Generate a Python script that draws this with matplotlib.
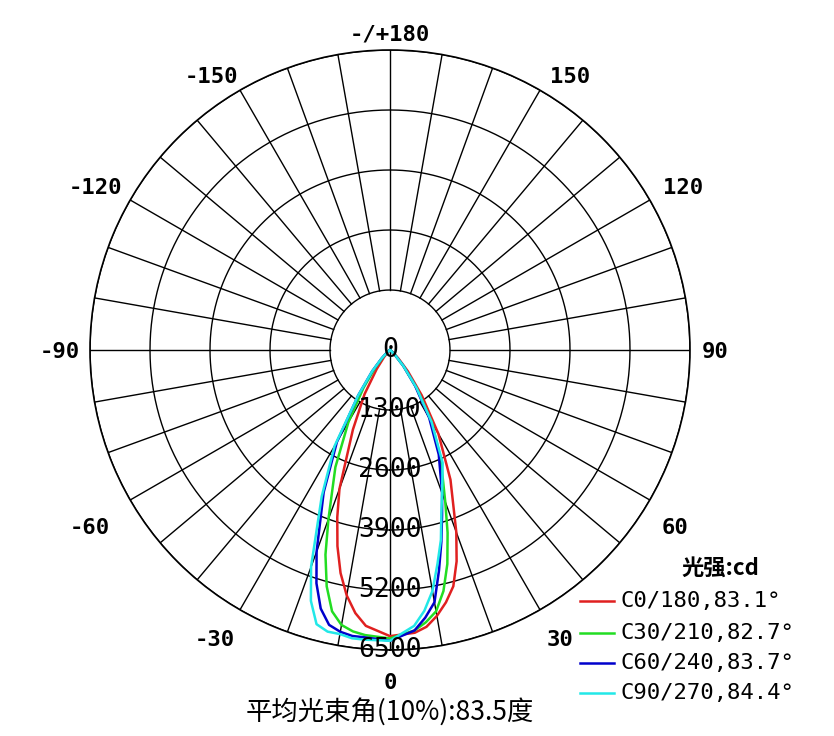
import numpy as np
import matplotlib.pyplot as plt
from matplotlib.lines import Line2D

# angles in degrees (negative = left side), intensity in cd
angles = [-90, -60, -50, -45, -40, -35, -30, -25, -20, -17.5, -15, -12.5, -10, -7.5, -5, 0,
          5, 7.5, 10, 12.5, 15, 17.5, 20, 25, 30, 35, 40, 45, 50, 60, 90]
c0 = [0, 0, 20, 60, 200, 500, 1100, 1900, 3200, 3800, 4400, 4950, 5400, 5750, 6000, 6200,
      6150, 6050, 5850, 5600, 5300, 4800, 4200, 3100, 2100, 1200, 600, 250, 80, 0, 0]
c30 = [0, 0, 60, 200, 500, 1000, 1800, 2800, 3900, 4650, 5300, 5800, 6050, 6150, 6200, 6250,
       6100, 5950, 5750, 5350, 4800, 4150, 3500, 2600, 1800, 1000, 450, 150, 40, 0, 0]
c60 = [0, 0, 80, 250, 600, 1200, 2300, 3400, 4650, 5300, 5800, 6100, 6200, 6250, 6250, 6300,
       6100, 5850, 5550, 4900, 4300, 3750, 3300, 2500, 1700, 950, 450, 150, 40, 0, 0]
c90 = [0, 0, 80, 250, 600, 1200, 2400, 3500, 5000, 5700, 6150, 6250, 6250, 6300, 6300, 6300,
       6000, 5700, 5300, 4750, 4260, 3700, 3300, 2700, 1800, 1000, 450, 150, 40, 0, 0]
series = [("C0/180,83.1°", c0, "#e02020"),
          ("C30/210,82.7°", c30, "#22dd22"),
          ("C60/240,83.7°", c60, "#0000cc"),
          ("C90/270,84.4°", c90, "#22e8e8")]
rings = [1300, 2600, 3900, 5200, 6500]
tick_labels = ["0", "30", "60", "90", "120", "150", "-/+180", "-150", "-120", "-90", "-60", "-30"]
tick_pos = [(390, 683), (560, 640), (675, 528), (715, 352), (683, 188), (570, 77),
            (390, 35), (212, 77), (95, 188), (60, 352), (90, 528), (215, 640)]

mono = ["DejaVu Sans Mono"]
cjk = ["Noto Sans CJK SC", "DejaVu Sans Mono"]

fig = plt.figure(figsize=(8.34, 7.36), dpi=100)
ax = fig.add_axes([90 / 834, 86 / 736, 600 / 834, 600 / 736], projection="polar")
ax.set_theta_zero_location("S")
ax.set_theta_direction(1)
ax.set_ylim(0, 6500)
ax.grid(False)
ax.set_xticks([])
ax.set_yticks([])
ax.spines["polar"].set_linewidth(1.2)

t = np.linspace(0, 2 * np.pi, 361)
for r in rings:
    ax.plot(t, np.full_like(t, r), color="black", lw=1)
for a in range(0, 360, 10):
    r0 = 0 if a == 0 else 1300
    ax.plot([np.deg2rad(a)] * 2, [r0, 6500], color="black", lw=1)

for name, vals, col in series:
    ax.plot(np.deg2rad(angles), vals, color=col, lw=1.8)

for r in [0] + rings:
    ax.text(0, r, str(r), ha="center", va="center", fontsize=19, family=mono, zorder=5)

for lab, (x, y) in zip(tick_labels, tick_pos):
    fig.text(x / 834, 1 - y / 736, lab, ha="center", va="center", fontsize=16,
             family=mono, weight="bold")

fig.text(720 / 834, 1 - 568 / 736, "光强:cd", ha="center", va="center", fontsize=16,
         family=cjk, weight="bold")
ys = [601, 633, 663, 693]
for (name, vals, col), y in zip(series, ys):
    yy = 1 - y / 736
    fig.add_artist(Line2D([580 / 834, 614 / 834], [yy, yy], color=col, lw=1.8))
    fig.text(620 / 834, yy, name, ha="left", va="center", fontsize=16, family=mono)

fig.text(390 / 834, 1 - 712 / 736, "平均光束角(10%):83.5度", ha="center", va="center",
         fontsize=19, family=cjk)

fig.savefig("out.png", dpi=100, facecolor="white")
